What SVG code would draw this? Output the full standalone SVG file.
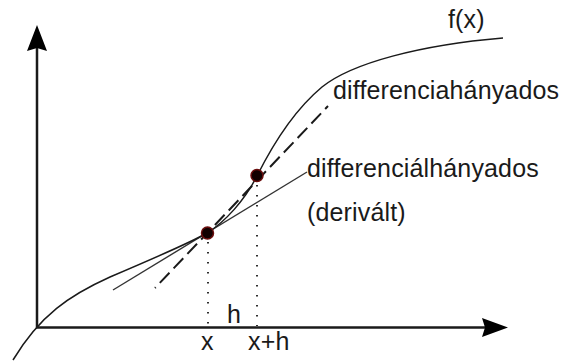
<svg xmlns="http://www.w3.org/2000/svg" width="570" height="361" viewBox="0 0 570 361">
  <style>
    .lbl { font-family: "Liberation Sans", Arial, sans-serif; font-size: 25px; fill: #1a1a1a; letter-spacing: 0.15px; }
    .axis { stroke: #1a1a1a; stroke-width: 2.5; fill: none; }
    .curve { stroke: #1a1a1a; stroke-width: 1.5; fill: none; }
    .tangent { stroke: #333; stroke-width: 1.4; fill: none; }
    .secant { stroke: #1a1a1a; stroke-width: 2; fill: none; stroke-dasharray: 14 6; stroke-dashoffset: 13; }
    .dotted { stroke: #1a1a1a; stroke-width: 1.8; fill: none; stroke-dasharray: 1.5 8.5; }
    .pt { fill: #120000; stroke: #6a0d0d; stroke-width: 1.5; }
    .head { fill: #000; }
  </style>
  <rect width="570" height="361" fill="#fff"/>
  <g id="axes">
    <line class="axis" x1="37" y1="328" x2="37" y2="45"/>
    <line class="axis" x1="36" y1="327.5" x2="488" y2="327.5"/>
    <path class="head" d="M37,25 L47,51 L37,48 L27,51 Z"/>
    <path class="head" d="M508,327.5 L482,318 L485,327.5 L482,337 Z"/>
  </g>
  <g id="connectors">
    <line class="dotted" x1="208" y1="242" x2="208" y2="326"/>
    <line class="dotted" x1="257" y1="185" x2="257" y2="326"/>
    <line class="tangent" x1="113" y1="290" x2="307" y2="172"/>
    <line class="secant" x1="155" y1="288" x2="328" y2="106"/>
    <path class="curve" d="M13,360 C40,315 70,295 110,277 C150,260 190,243 207,233 C225,222 245,200 257,176 C270,150 292,112 322,87 C352,63 420,45 503,38"/>
  </g>
  <g id="points">
    <circle class="pt" cx="207.5" cy="233" r="6"/>
    <circle class="pt" cx="257" cy="175.5" r="6"/>
  </g>
  <g id="labels">
    <text class="lbl" x="448" y="28">f(x)</text>
    <text class="lbl" x="333" y="99">differenciahányados</text>
    <text class="lbl" x="307" y="177">differenciálhányados</text>
    <text class="lbl" x="307" y="221">(derivált)</text>
    <text class="lbl" x="227" y="323">h</text>
    <text class="lbl" x="201" y="350">x</text>
    <text class="lbl" x="248" y="350">x+h</text>
  </g>
</svg>
